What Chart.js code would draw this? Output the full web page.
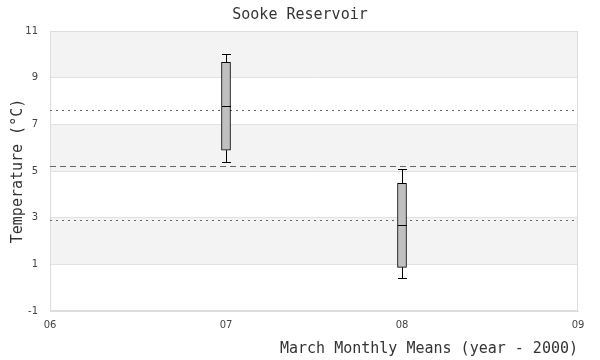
<!DOCTYPE html>
<html>
<head>
<meta charset="utf-8">
<script src="https://cdn.jsdelivr.net/npm/chart.js@4"></script>
<style>
  body { margin: 0; background: #fff; }
  #wrap { width: 600px; height: 360px; }
</style>
</head>
<body>
<div id="wrap"><canvas id="chart"></canvas></div>
<script>
// March means per year (year - 2000)
const years = [7, 8];
const whiskerLow = [5.37, 0.41];
const q1 = [5.89, 0.87];
const median = [7.77, 2.67];
const q3 = [9.66, 4.47];
const whiskerHigh = [10.0, 5.07];

// reference lines: upper / mean / lower
const refValues = [7.6, 5.2, 2.9];
const refDashes = [[2, 4], [6, 4], [2, 4]];

const mono = 'DejaVu Sans Mono';

// alternating bands + reference lines behind the boxes
const bandsPlugin = {
  id: 'bands',
  beforeDraw(chart) {
    const { ctx, chartArea: a, scales: { y } } = chart;
    const ticks = y.ticks.map(t => t.value);
    ctx.save();
    ctx.fillStyle = '#f3f3f3';
    for (let i = ticks.length - 1; i > 0; i -= 2) {
      const top = y.getPixelForValue(ticks[i]);
      const bot = y.getPixelForValue(ticks[i - 1]);
      ctx.fillRect(a.left, top, a.right - a.left, bot - top);
    }
    ctx.restore();
  },
  beforeDatasetsDraw(chart) {
    const { ctx, chartArea: a, scales: { y } } = chart;
    ctx.save();
    ctx.strokeStyle = '#ddd';
    ctx.lineWidth = 1;
    ctx.strokeRect(a.left + 0.5, a.top + 0.5, a.right - a.left - 1, a.bottom - a.top - 1);
    ctx.strokeStyle = '#666';
    refValues.forEach((v, i) => {
      const py = Math.round(y.getPixelForValue(v)) + 0.5;
      ctx.setLineDash(refDashes[i]);
      ctx.beginPath();
      ctx.moveTo(a.left, py);
      ctx.lineTo(a.right, py);
      ctx.stroke();
    });
    ctx.restore();
  }
};

// whiskers, caps and medians
const whiskerPlugin = {
  id: 'whiskers',
  afterDatasetsDraw(chart) {
    const { ctx, scales: { x, y } } = chart;
    const half = 4.5;
    ctx.save();
    ctx.strokeStyle = '#000';
    ctx.lineWidth = 1;
    years.forEach((yr, i) => {
      const px = Math.round(x.getPixelForValue(yr)) + 0.5;
      const seg = (x1, y1, x2, y2) => {
        ctx.beginPath();
        ctx.moveTo(x1, y1);
        ctx.lineTo(x2, y2);
        ctx.stroke();
      };
      const yHi = Math.round(y.getPixelForValue(whiskerHigh[i])) + 0.5;
      const yLo = Math.round(y.getPixelForValue(whiskerLow[i])) + 0.5;
      const yQ3 = y.getPixelForValue(q3[i]);
      const yQ1 = y.getPixelForValue(q1[i]);
      const yMed = Math.round(y.getPixelForValue(median[i])) + 0.5;
      seg(px, yHi, px, yQ3);
      seg(px, yQ1, px, yLo);
      seg(px - half, yHi, px + half, yHi);
      seg(px - half, yLo, px + half, yLo);
      seg(px - half, yMed, px + half, yMed);
    });
    ctx.restore();
  }
};

new Chart(document.getElementById('chart'), {
  type: 'bar',
  data: {
    datasets: [{
      data: years.map((yr, i) => ({ x: yr, y: [q1[i], q3[i]] })),
      backgroundColor: '#c0c0c0',
      borderColor: '#000',
      borderWidth: 1,
      borderSkipped: false,
      barThickness: 9
    }]
  },
  options: {
    responsive: true,
    maintainAspectRatio: false,
    animation: false,
    layout: { padding: { top: 4, right: 9, bottom: 2, left: 9 } },
    plugins: {
      legend: { display: false },
      tooltip: { enabled: false },
      title: {
        display: true,
        text: 'Sooke Reservoir',
        color: '#333',
        font: { family: mono, size: 15, weight: 'normal' },
        padding: { top: 2, bottom: 7 }
      }
    },
    scales: {
      x: {
        type: 'linear',
        min: 6,
        max: 9,
        offset: false,
        grid: { display: false, drawTicks: false },
        border: { color: '#ddd' },
        ticks: {
          stepSize: 1,
          padding: 8,
          color: '#444',
          font: { family: 'DejaVu Sans', size: 10 },
          callback: v => String(v).padStart(2, '0')
        },
        title: {
          display: true,
          align: 'end',
          text: 'March Monthly Means (year - 2000)',
          color: '#333',
          font: { family: mono, size: 15 },
          padding: { top: 1, bottom: 0 }
        }
      },
      y: {
        min: -1,
        max: 11,
        afterFit: scale => { scale.width = 41; },
        grid: { color: '#e2e2e2', drawTicks: false },
        border: { color: '#ddd' },
        ticks: {
          stepSize: 2,
          padding: 12,
          color: '#444',
          font: { family: 'DejaVu Sans', size: 10 }
        },
        title: {
          display: true,
          text: 'Temperature (°C)',
          color: '#333',
          font: { family: mono, size: 15 },
          padding: { top: 0, bottom: 0 }
        }
      },
      // empty right margin so the title stays centred on the page
      yRight: {
        position: 'right',
        afterFit: scale => { scale.width = 13; },
        grid: { display: false, drawTicks: false },
        border: { display: false },
        ticks: { display: false }
      }
    }
  },
  plugins: [bandsPlugin, whiskerPlugin]
});
</script>
</body>
</html>
